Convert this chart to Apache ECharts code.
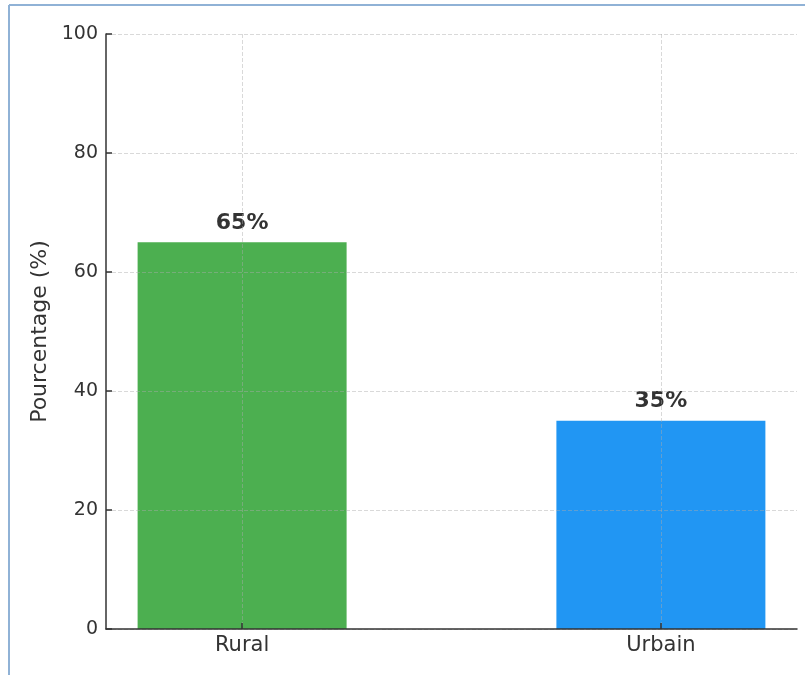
<!DOCTYPE html>
<html>
<head>
<meta charset="utf-8">
<script src="https://cdn.jsdelivr.net/npm/echarts@6/dist/echarts.min.js"></script>
<style>
  html, body { margin: 0; padding: 0; background: #fff; }
  #chart { width: 805px; height: 675px; }
</style>
</head>
<body>
<div id="chart"></div>
<script>
// Share of population by area type
const categories = ['Rural', 'Urbain'];
const values = [65, 35];
const barColors = ['#4CAF50', '#2196F3'];
const yTicks = [0, 20, 40, 60, 80, 100];

const chart = echarts.init(document.getElementById('chart'));
const font = 'DejaVu Sans';
const axisColor = '#333333';
const gridStyle = { color: 'rgba(170,170,170,0.45)', type: [4, 2], width: 1 };

chart.setOption({
  animation: false,
  backgroundColor: '#ffffff',
  textStyle: { fontFamily: font },
  grid: { left: 106, right: 8, top: 34, bottom: 46, containLabel: false },
  xAxis: {
    type: 'value',
    min: -0.325,
    max: 1.325,
    z: 5,
    axisLine: { show: true, onZero: false, lineStyle: { color: axisColor, width: 1.5 } },
    axisTick: { show: true, inside: true, length: 6, customValues: [0, 1], lineStyle: { color: axisColor, width: 1.5 } },
    axisLabel: {
      show: true, customValues: [0, 1], margin: 6,
      formatter: v => categories[Math.round(v)] || '',
      color: axisColor, fontSize: 21, fontFamily: font
    },
    splitLine: { show: true, lineStyle: gridStyle }
  },
  yAxis: {
    type: 'value',
    min: yTicks[0],
    max: yTicks[yTicks.length - 1],
    interval: 20,
    z: 5,
    name: 'Pourcentage (%)',
    nameLocation: 'middle',
    nameGap: 55,
    nameTextStyle: { color: axisColor, fontSize: 22, fontFamily: font },
    axisLine: { show: true, onZero: false, lineStyle: { color: axisColor, width: 1.5 } },
    axisTick: { show: true, inside: true, length: 6, lineStyle: { color: axisColor, width: 1.5 } },
    axisLabel: { color: axisColor, fontSize: 19, fontFamily: font, margin: 8 },
    splitLine: { show: true, lineStyle: gridStyle }
  },
  series: [{
    type: 'bar',
    barWidth: 209,
    data: values.map((v, i) => ({ value: [i, v], itemStyle: { color: barColors[i] } })),
    label: {
      show: true,
      position: 'top',
      distance: 8,
      formatter: p => p.value[1] + '%',
      color: axisColor,
      fontSize: 22,
      fontWeight: 'bold',
      fontFamily: font
    },
    z: 1
  }],
  graphic: [
    { type: 'line', shape: { x1: 9, y1: 5, x2: 9, y2: 675 }, style: { stroke: '#90b2d6', lineWidth: 2 } },
    { type: 'line', shape: { x1: 9, y1: 5, x2: 805, y2: 5 }, style: { stroke: '#90b2d6', lineWidth: 2 } }
  ]
});
</script>
</body>
</html>
